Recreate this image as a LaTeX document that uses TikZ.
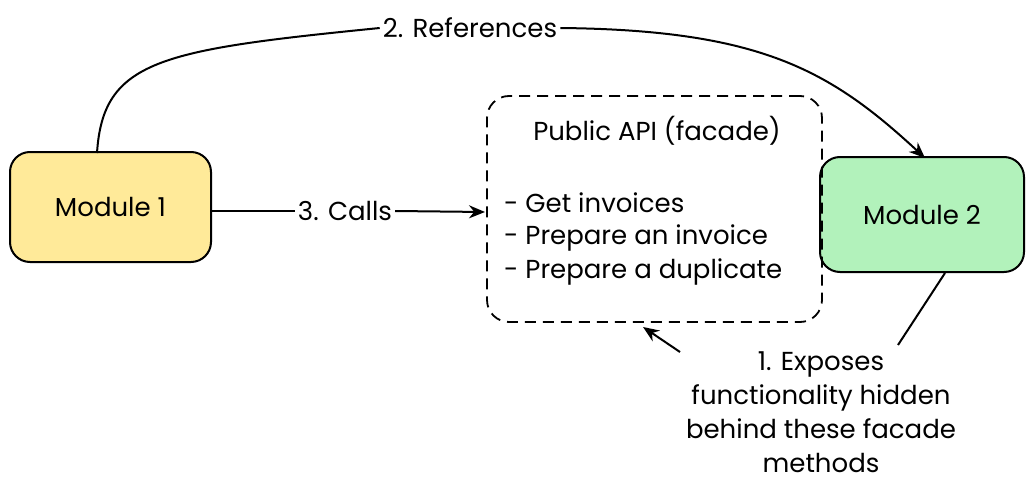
\documentclass[tikz,border=0pt]{standalone}
\usepackage{fontspec}
\setmainfont{Poppins}
\usetikzlibrary{arrows.meta}
\definecolor{yel}{HTML}{FFEA99}
\definecolor{grn}{HTML}{B2F2BB}
\tikzset{
  modbox/.style={draw=black, line width=2pt, rounded corners=20pt, inner sep=0pt},
  lbl/.style={inner sep=2pt, font=\fontsize{26}{34}\selectfont},
  conn/.style={line width=2pt},
  arr/.style={conn, -{Stealth[length=16pt,width=13pt]}},
}
\begin{document}
\begin{tikzpicture}[x=1pt,y=-1pt]
\useasboundingbox (0,0) rectangle (1034,495);
\node[modbox, fill=yel, minimum width=201pt, minimum height=110pt] (m1) at (110.5,207) {};
\node[lbl] at (m1) {Module 1};
\node[modbox, fill=grn, minimum width=204pt, minimum height=115pt] (m2) at (922,214.5) {};
\node[lbl] at (m2) {Module 2};
\node[draw=black, line width=1.8pt, dash pattern=on 11pt off 7pt, rounded corners=22pt, minimum width=335pt, minimum height=226pt, inner sep=0pt] (api) at (654.5,209) {};
\node[lbl] (title) at (657,131) {Public API (facade)};
\node[lbl, anchor=west] (l1) at (502,203) {- Get invoices};
\node[lbl, anchor=west] (l2) at (502,238) {- Prepare an invoice};
\node[lbl, anchor=west] (l3) at (502,272) {- Prepare a duplicate};
% 2. References
\node[lbl, inner sep=3pt] (ref) at (470,28) {2. References};
\coordinate (a1) at (97,153);
\coordinate (a2) at (925,158);
\draw[conn] (a1) .. controls (103,60) and (160,50) .. (ref.west);
\draw[arr] (ref.east) .. controls (760,30) and (830,70) .. (a2);
% 3. Calls
\node[lbl, inner sep=3pt] (calls) at (345,211) {3. Calls};
\coordinate (c2) at (485,212);
\draw[conn] (m1.east |- calls) -- (calls.west);
\draw[arr] (calls.east) -- (c2);
% 1. Exposes
\node[lbl, align=center, inner sep=0pt] (exp) at (821,412) {1. Exposes\\functionality hidden\\behind these facade\\methods};
\coordinate (e1) at (945,273);
\coordinate (e2) at (898,345);
\coordinate (e3) at (680,352);
\coordinate (e4) at (643,327);
\draw[conn] (e1) -- (e2);
\draw[arr] (e3) -- (e4);
\end{tikzpicture}
\end{document}
